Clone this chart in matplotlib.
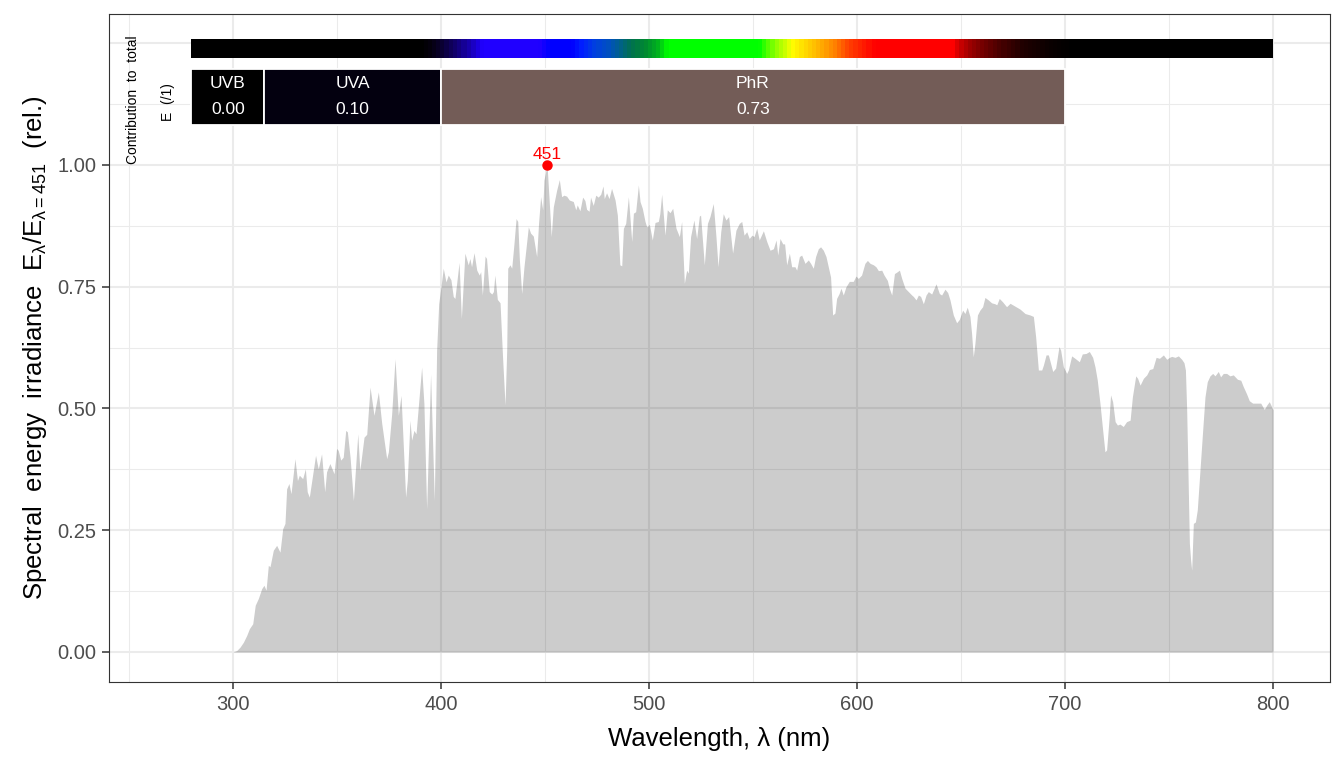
import numpy as np
import matplotlib
matplotlib.use("Agg")
import matplotlib.pyplot as plt
from matplotlib.colors import LinearSegmentedColormap
from matplotlib.patches import Rectangle

plt.rcParams['font.family'] = ['Liberation Sans', 'DejaVu Sans']
plt.rcParams['mathtext.fontset'] = 'custom'
plt.rcParams['mathtext.rm'] = 'Liberation Sans'
plt.rcParams['mathtext.it'] = 'Liberation Sans'

# spectrum (wavelength nm, irradiance relative to 451 nm)
wl = [300, 301.8, 303.4, 305, 306.6, 307.9, 309.5, 310.7, 312.2, 313.8, 314.9, 315.9,
      317, 317.8, 319.4, 321, 322.6, 323.9, 325, 325.8, 326.9, 327.9, 329.8, 331,
      331.9, 333.5, 334.8, 335.7, 336.7, 339.7, 341, 342.6, 344.1, 345, 346.6, 348.6,
      349.8, 350.6, 351.8, 353, 354.2, 355, 356.3, 357.9, 360, 361, 363, 364.3,
      365.9, 367.8, 369.9, 371.5, 373.9, 374.7, 376.3, 377.9, 379.5, 380.8, 383, 383.8,
      385.1, 385.9, 387, 388, 390.7, 391.8, 393.1, 395, 396.8, 397.9, 398.9,
      400, 401.1, 402.4, 403.5, 404.8, 405.9, 406.7, 408.7, 409.8, 411.5, 413.1, 413.9,
      414.7, 415.9, 417.2, 418.4, 419.1, 419.9, 421.2, 421.9, 423.2, 424.4, 425.2, 425.9,
      427.1, 428.4, 429.6, 430.8, 431.6, 432.1, 433.2, 434, 435.1, 436.1, 436.9, 437.7,
      438.8, 439.9, 442, 443.1, 444.4, 446, 446.9, 447.9, 448.9, 449.5, 451, 452,
      453, 454, 455.6, 456.9, 458, 459.1, 460.4, 461.7, 463.6, 464.8, 465.5, 466.8,
      468.1, 469.2, 470, 471.2, 471.9, 473.2, 474.4, 475.6, 476.8, 477.9, 478.5, 479.6,
      480.8, 482, 483.7, 484.8, 486, 486.9, 487.7, 488.8, 490.1, 491.7, 492.5, 493.6,
      494.9, 495.7, 496.8, 498.1, 498.9, 500.2, 501.6, 502.9, 504.5, 505.2, 506.1, 507.7,
      508.8, 510.1, 511.4, 513, 514.6, 515.7, 517, 518.1, 518.9, 520, 521.6, 522.9,
      524.2, 524.8, 526.6, 528.1, 529.3, 530.9, 532.2, 533.2, 534.5, 535.7, 537, 538.3,
      540.2, 541.8, 543.4, 544.6, 545.7, 547, 548.2, 549.5, 550.5, 551.8, 553, 555,
      556.6, 558.2, 559.8, 561.1, 561.9, 563, 564.3, 565.2, 566.2, 567.5, 568.6, 570.2,
      571, 572.3, 573.4, 575, 576.6, 577.7, 579, 580.1, 581.4, 582.5, 583.8, 585.1,
      586.2, 587.3, 588.3, 589.4, 590.2, 591.4, 592.3, 593.4, 594.7, 596.3, 598.2, 599.5,
      600.6, 602.2, 603.8, 605, 606.3, 607.9, 609.1, 610.3, 611.9, 613, 614.6, 615.5,
      616.7, 618, 619.1, 620.4, 621.5, 623.1, 624.7, 626.3, 627.1, 628.4, 629.5, 630.6,
      631.9, 633.2, 634.3, 635.9, 638, 639.6, 640.7, 642.3, 643.6, 644.7, 646.3, 647.9,
      649.2, 650.8, 651.9, 653, 654.3, 655.1, 655.9, 656.7, 657.9, 659.1, 660.4, 661.5,
      663.1, 664.7, 666.3, 667.2, 668.4, 670, 671.9, 673.6, 676, 678.4, 680.8, 683.2,
      684.8, 685.9, 687.2, 688.8, 689.6, 690.9, 692, 694.1, 695.5, 697.1, 697.9, 699.2,
      700.8, 701.6, 703.2, 704.8, 706.9, 708.3, 710.1, 711.7, 713.3, 714.4, 715.5, 716.8,
      718.1, 719.2, 720, 721.2, 721.9, 722.9, 724.1, 725.2, 726.4, 728, 729.6, 731.3,
      732.4, 734, 734.9, 736.1, 737.7, 739.3, 740.6, 742.2, 743.8, 745.4, 747.3, 748.9,
      750.2, 751.3, 752.9, 754.5, 756.1, 757.2, 757.9, 758.5, 759.1, 759.8, 760.4, 760.9,
      761.7, 762.7, 763.6, 764.9, 766.2, 767.3, 768.4, 769.7, 771, 772.1, 773.7, 774.8,
      776.1, 777.7, 779.3, 780.9, 782.9, 784.5, 785.7, 787.3, 788.6, 790.2, 792.1, 794.1,
      795.8, 797, 798.2, 799.3, 800]
irrad = [0.0, 0.003, 0.01, 0.02, 0.034, 0.048, 0.058, 0.096, 0.11, 0.13, 0.137, 0.127,
         0.178, 0.175, 0.209, 0.219, 0.205, 0.253, 0.264, 0.335, 0.346, 0.325, 0.397, 0.352,
         0.363, 0.356, 0.376, 0.329, 0.318, 0.404, 0.376, 0.407, 0.329, 0.37, 0.387, 0.366,
         0.418, 0.414, 0.394, 0.40, 0.455, 0.452, 0.40, 0.311, 0.448, 0.373, 0.441, 0.447,
         0.544, 0.486, 0.534, 0.47, 0.397, 0.411, 0.489, 0.602, 0.486, 0.527, 0.318, 0.352,
         0.476, 0.435, 0.455, 0.448, 0.585, 0.51, 0.294, 0.571, 0.311, 0.619, 0.715,
         0.75, 0.788, 0.76, 0.774, 0.764, 0.73, 0.726, 0.80, 0.685, 0.819, 0.795, 0.808,
         0.791, 0.82, 0.784, 0.774, 0.781, 0.733, 0.813, 0.808, 0.74, 0.735, 0.74, 0.774,
         0.724, 0.717, 0.606, 0.507, 0.62, 0.788, 0.795, 0.788, 0.839, 0.89, 0.884, 0.805,
         0.736, 0.791, 0.873, 0.86, 0.854, 0.812, 0.88, 0.935, 0.908, 0.969, 1.0, 0.928,
         0.853, 0.914, 0.948, 0.97, 0.935, 0.938, 0.936, 0.928, 0.925, 0.908, 0.918, 0.906,
         0.934, 0.927, 0.909, 0.905, 0.934, 0.917, 0.938, 0.934, 0.94, 0.957, 0.931, 0.943,
         0.931, 0.952, 0.928, 0.897, 0.795, 0.793, 0.87, 0.88, 0.935, 0.843, 0.901, 0.904,
         0.959, 0.925, 0.911, 0.884, 0.873, 0.878, 0.846, 0.882, 0.884, 0.90, 0.94, 0.856,
         0.908, 0.902, 0.911, 0.87, 0.853, 0.884, 0.757, 0.784, 0.778, 0.853, 0.887, 0.849,
         0.895, 0.897, 0.795, 0.88, 0.894, 0.921, 0.853, 0.791, 0.863, 0.90, 0.887, 0.894,
         0.819, 0.866, 0.88, 0.884, 0.856, 0.863, 0.849, 0.856, 0.853, 0.87, 0.846, 0.865,
         0.843, 0.825, 0.828, 0.846, 0.815, 0.849, 0.838, 0.838, 0.795, 0.819, 0.791, 0.791,
         0.784, 0.812, 0.815, 0.798, 0.805, 0.798, 0.788, 0.812, 0.828, 0.832, 0.825, 0.812,
         0.791, 0.77, 0.692, 0.696, 0.726, 0.736, 0.747, 0.733, 0.75, 0.761, 0.761, 0.772,
         0.767, 0.774, 0.798, 0.804, 0.798, 0.795, 0.791, 0.783, 0.784, 0.774, 0.763, 0.747,
         0.733, 0.777, 0.78, 0.784, 0.767, 0.747, 0.74, 0.733, 0.73, 0.723, 0.733, 0.73,
         0.715, 0.733, 0.74, 0.735, 0.756, 0.736, 0.733, 0.745, 0.738, 0.723, 0.692, 0.676,
         0.683, 0.702, 0.695, 0.708, 0.689, 0.654, 0.606, 0.634, 0.692, 0.702, 0.709, 0.728,
         0.723, 0.717, 0.715, 0.713, 0.726, 0.719, 0.709, 0.716, 0.71, 0.704, 0.695, 0.692,
         0.689, 0.647, 0.579, 0.579, 0.589, 0.61, 0.61, 0.576, 0.583, 0.627, 0.62, 0.586,
         0.572, 0.579, 0.608, 0.603, 0.596, 0.612, 0.613, 0.617, 0.605, 0.586, 0.559, 0.511,
         0.456, 0.411, 0.415, 0.48, 0.528, 0.514, 0.473, 0.466, 0.468, 0.463, 0.473, 0.476,
         0.524, 0.567, 0.562, 0.548, 0.562, 0.569, 0.58, 0.582, 0.605, 0.603, 0.61, 0.601,
         0.605, 0.607, 0.605, 0.608, 0.601, 0.594, 0.579, 0.497, 0.374, 0.223, 0.189, 0.168,
         0.264, 0.267, 0.292, 0.374, 0.456, 0.524, 0.555, 0.567, 0.572, 0.567, 0.576, 0.565,
         0.572, 0.572, 0.567, 0.569, 0.56, 0.558, 0.545, 0.53, 0.516, 0.511, 0.511, 0.511,
         0.498, 0.507, 0.514, 0.504, 0.497]

peak_wl = 451
peak_val = 1.0

# waveband summary
band_names = ["UVB", "UVA", "PhR"]
band_lo = [280, 315, 400]
band_hi = [315, 400, 700]
band_frac = [0.00, 0.10, 0.73]
band_colors = ["#000000", "#03000F", "#735C57"]

# colour stops for the wavelength colour strip
strip_stops = [(280, "#000000"), (390, "#000000"), (395, "#05000F"), (400, "#0A0030"),
               (407, "#120070"), (413, "#1800B0"), (419, "#2000FF"), (447, "#2000FF"),
               (452, "#0000FF"), (463, "#0000FF"), (468, "#0020FF"), (474, "#0040E0"),
               (480, "#0050C0"), (485, "#006090"), (491, "#007050"), (498, "#008A30"),
               (504, "#00B020"), (509, "#00FF00"), (553, "#00FF00"), (557, "#50FF00"),
               (562, "#A0FF00"), (566, "#D0FF00"), (569, "#FFFF00"), (577, "#FFD000"),
               (584, "#FFA800"), (590, "#FF8000"), (597, "#FF4000"), (603, "#FF2000"),
               (609, "#FF0000"), (647, "#FF0000"), (650, "#D00000"), (655, "#A00000"),
               (661, "#780000"), (670, "#480000"), (680, "#200000"), (695, "#080000"),
               (705, "#000000"), (800, "#000000")]

fig = plt.figure(figsize=(13.44, 7.68), dpi=100)
ax = fig.add_axes([109 / 1344, 1 - 682 / 768, (1330 - 109) / 1344, (682 - 14) / 768])

ax.set_xlim(240.4, 827.4)
ax.set_ylim(-0.0616, 1.310)

# grid (drawn by hand so 1.25 gets a line without a label)
for x in range(300, 801, 100):
    ax.axvline(x, color="#EBEBEB", lw=1.5, zorder=0)
for x in range(250, 800, 100):
    ax.axvline(x, color="#EBEBEB", lw=0.75, zorder=0)
for y in np.arange(0, 1.26, 0.25):
    ax.axhline(y, color="#EBEBEB", lw=1.5, zorder=0)
for y in np.arange(0.125, 1.2, 0.25):
    ax.axhline(y, color="#EBEBEB", lw=0.75, zorder=0)

ax.fill_between(wl, irrad, 0, color="black", alpha=0.2, lw=0, zorder=1)

ax.plot([peak_wl], [peak_val], "o", color="red", ms=6.5, zorder=3)
ax.text(peak_wl, peak_val + 0.006, str(peak_wl), color="red", fontsize=12.5,
        ha="center", va="bottom", zorder=3)

# colour strip
cmap = LinearSegmentedColormap.from_list(
    "wl", [((w - 280) / 520, c) for w, c in strip_stops])
strip = np.linspace(0, 1, 521).reshape(1, -1)
ax.imshow(strip, cmap=cmap, aspect="auto", interpolation="nearest",
          extent=[280, 800, 1.2203, 1.2587], zorder=2)

# waveband boxes
for name, lo, hi, frac, col in zip(band_names, band_lo, band_hi, band_frac, band_colors):
    ax.add_patch(Rectangle((lo, 1.082), hi - lo, 0.115, facecolor=col,
                           edgecolor="white", lw=1.3, zorder=2))
    mid = (lo + hi) / 2
    ax.text(mid, 1.168, name, color="white", fontsize=12.5, ha="center", va="center", zorder=3)
    ax.text(mid, 1.113, f"{frac:.2f}", color="white", fontsize=12.5, ha="center",
            va="center", zorder=3)

ax.text(251.9, 1.135, "Contribution  to  total", rotation=90, fontsize=10,
        ha="center", va="center", zorder=3)
ax.text(268.7, 1.13, "E  (/1)", rotation=90, fontsize=10,
        ha="center", va="center", zorder=3)

ax.set_xticks([300, 400, 500, 600, 700, 800])
ax.set_yticks([0, 0.25, 0.5, 0.75, 1.0])
ax.set_yticklabels(["0.00", "0.25", "0.50", "0.75", "1.00"])
ax.tick_params(axis="both", length=5, width=1.1, color="#333333",
               labelcolor="#4D4D4D", labelsize=14.5, pad=4)

for s in ax.spines.values():
    s.set_color("#333333")
    s.set_linewidth(0.8)

ax.set_xlabel("Wavelength, λ (nm)", fontsize=18.5, labelpad=10)
ax.set_ylabel(r"Spectral  energy  irradiance  $\mathrm{E}_{\lambda}/\mathrm{E}_{\lambda=451}$  (rel.)",
              fontsize=18.5, labelpad=6)

fig.savefig("out.png", dpi=100)
